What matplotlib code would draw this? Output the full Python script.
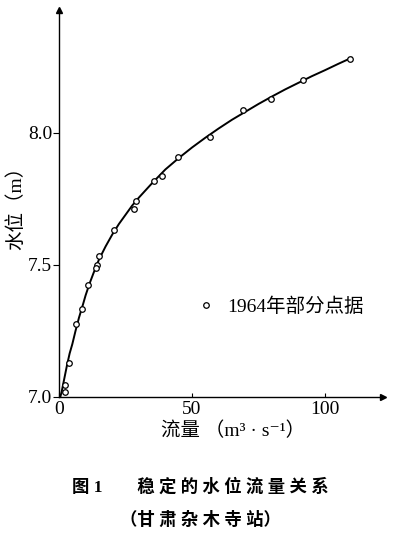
import matplotlib
matplotlib.use("Agg")
import matplotlib.pyplot as plt

plt.rcParams['font.family'] = ['Liberation Serif', 'Noto Sans CJK SC', 'DejaVu Sans']

# 1964 measured points (discharge m3/s, stage m)
flow_pts = [109.4, 91.8, 79.6, 69.3, 56.8, 44.8, 38.8, 35.8, 28.9, 28.2,
            20.8, 15.0, 14.4, 13.8, 11.0, 8.8, 6.5, 3.9, 2.4, 2.1]
stage_pts = [8.281, 8.200, 8.128, 8.087, 7.985, 7.909, 7.837, 7.818, 7.744, 7.712,
             7.633, 7.535, 7.500, 7.487, 7.424, 7.333, 7.275, 7.130, 7.045, 7.020]

# rating curve
flow_curve = [0.5, 1.0, 1.5, 2.2, 3, 4, 5, 6.2, 7.5, 9, 10, 11.5, 13, 15, 17.5, 20,
              22.5, 25, 27.5, 30, 35, 40, 45, 50, 55, 60, 65, 70, 75, 80, 85,
              90, 95, 100, 105, 110]
stage_curve = [7.0, 7.02, 7.045, 7.08, 7.12, 7.165, 7.2, 7.25, 7.3, 7.35, 7.385,
               7.43, 7.47, 7.52, 7.57, 7.615, 7.655, 7.69, 7.725, 7.755, 7.81,
               7.862, 7.905, 7.945, 7.982, 8.017, 8.05, 8.08, 8.11, 8.138, 8.165,
               8.19, 8.215, 8.238, 8.262, 8.285]

x_ticks = [0, 50, 100]
y_ticks = [7.0, 7.5, 8.0]
y_ticklabels = ["7.0", "7.5", "8.0"]

fig = plt.figure(figsize=(4.0, 5.34), dpi=100)
ax = fig.add_axes([0.1475, 0.2566, 0.81, 0.7247])

ax.plot(flow_curve, stage_curve, color="black", lw=1.4)
ax.plot(flow_pts, stage_pts, "o", mfc="white", mec="black", ms=4, mew=0.9,
        label="1964年部分点据")

ax.set_xlim(0, 121.8)
ax.set_ylim(7.0, 8.466)
ax.spines['top'].set_visible(False)
ax.spines['right'].set_visible(False)
ax.spines['left'].set_linewidth(1.0)
ax.spines['bottom'].set_linewidth(1.0)

# arrow heads
ax.plot(1, 0, ">k", transform=ax.transAxes, clip_on=False, ms=5)
ax.plot(0, 1, "^k", transform=ax.transAxes, clip_on=False, ms=5)

ax.set_xticks(x_ticks)
ax.set_yticks(y_ticks)
ax.set_yticklabels(y_ticklabels)
ax.tick_params(axis='y', direction='out', length=4, labelsize=14, pad=1)
ax.tick_params(axis='x', direction='in', length=3, labelsize=14, pad=3)

ax.set_ylabel("水位（m）", fontsize=14, labelpad=2)
fig.text(0.583, 0.193, "流量 （m³ · s⁻¹）", fontsize=14, ha="center", va="center")

leg = ax.legend(loc="center left", bbox_to_anchor=(0.37, 0.233), frameon=False,
                fontsize=14, handletextpad=0.6, markerscale=1.0, handlelength=1.0)

fig.text(0.5, 0.088, "图 1　　稳 定 的 水 位 流 量 关 系", fontsize=12.5,
         ha="center", va="center", fontweight="bold")
fig.text(0.5, 0.026, "（甘 肃 杂 木 寺 站）", fontsize=12.5,
         ha="center", va="center", fontweight="bold")

fig.savefig("out.png", dpi=100)
